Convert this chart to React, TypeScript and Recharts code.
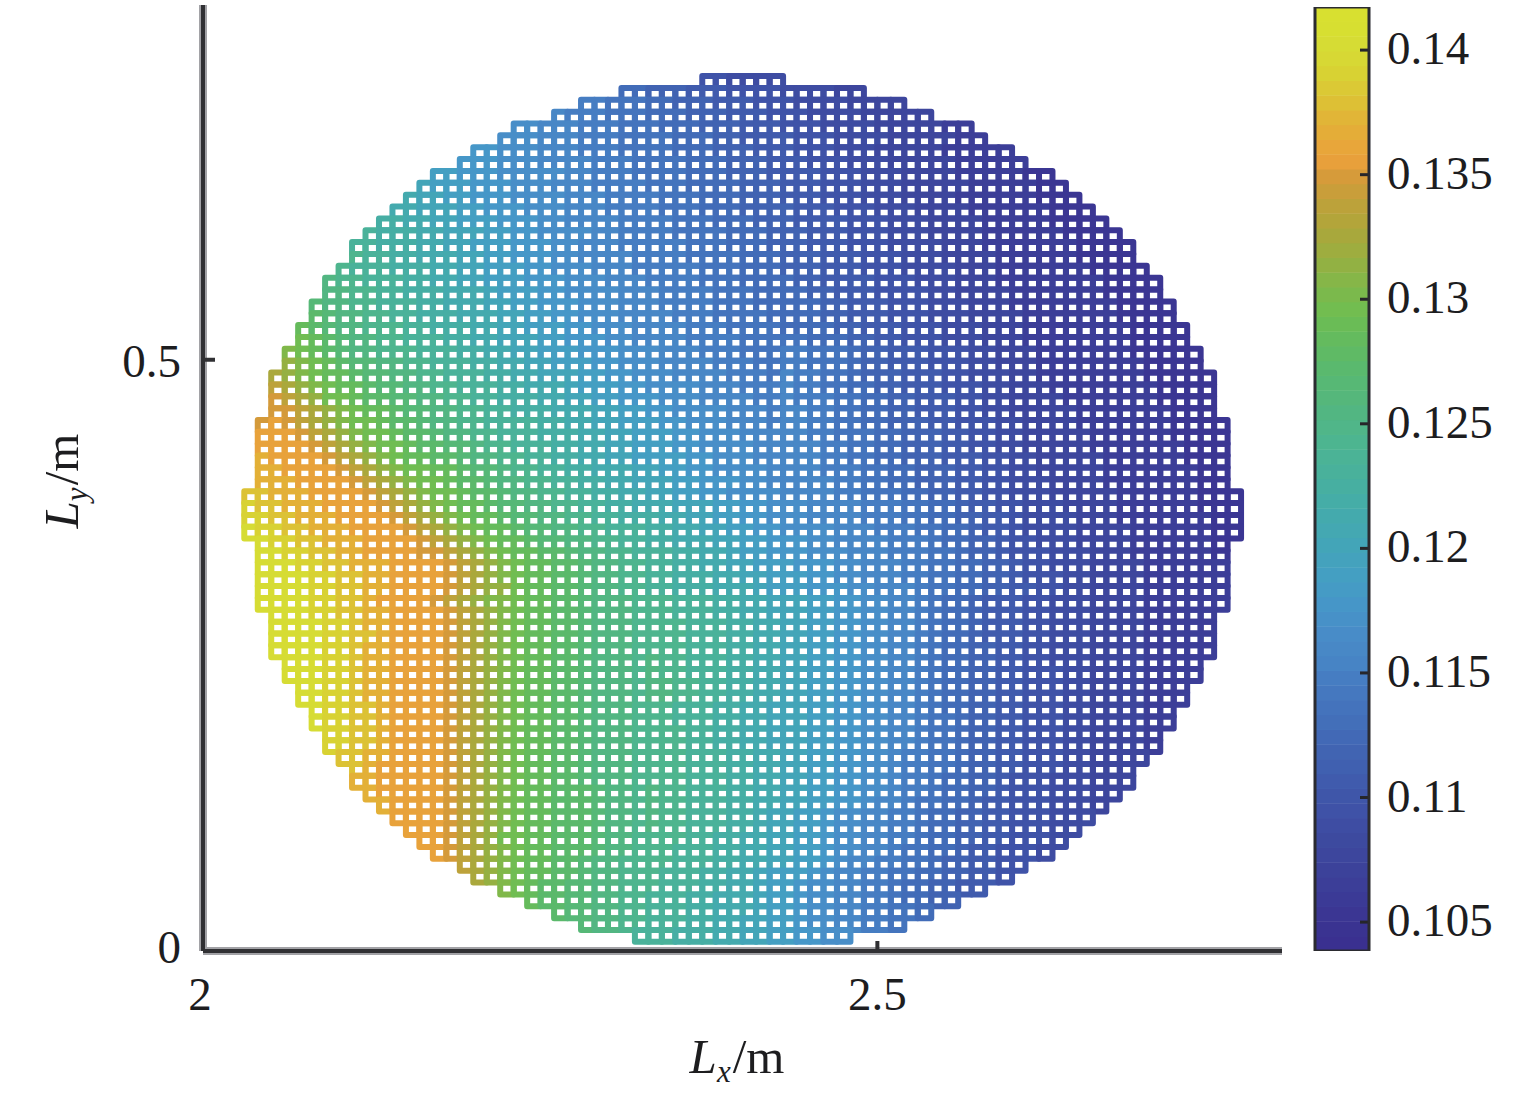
import React from 'react';
import {
  ScatterChart,
  Scatter,
  XAxis,
  YAxis,
  ReferenceLine,
  Label,
} from 'recharts';

const FONT = '"Liberation Serif", serif';
const INK = '#1d1d1f';

// colour levels used by the mesh, low to high
const LEVEL_COLORS = [
  '#3a3190', '#3b3693', '#3c3e98', '#3d469d', '#3e4ca2', '#3f53a8',
  '#405bad', '#4163b2', '#426cb8', '#4474bd', '#467dc2', '#4887c6',
  '#488ec8', '#4697c8', '#449fc2', '#43a5b8', '#44aaae', '#46aea4',
  '#4ab29a', '#4eb58e', '#52b682', '#56b877', '#5bb96b', '#65bb5c',
  '#70bd52', '#80b84a', '#95b042', '#aaa83c', '#bda23a', '#d49a3a',
  '#e8a23b', '#e3b037', '#dcc235', '#d8d233', '#d6dc34', '#d8e030',
];
const LEVEL_CHARS = '0123456789abcdefghijklmnopqrstuvwxyz';

// the 64 steps of the colour bar, bottom to top
const BAR_COLORS = [
  '#3a3090', '#3a3391', '#3b3693', '#3b3a96', '#3c3e98', '#3c429a', '#3d469d', '#3d4a9f',
  '#3e4da3', '#3f52a7', '#3f56a9', '#405bad', '#4060b0', '#4164b2', '#4269b6', '#436fb9',
  '#4473bc', '#4578bf', '#467dc2', '#4784c5', '#4888c6', '#488cc8', '#4791c8', '#4696c8',
  '#459bc5', '#449fc2', '#44a2bd', '#43a5b8', '#44a8b2', '#44aaad', '#45ada7', '#47afa1',
  '#49b19b', '#4bb396', '#4db590', '#50b689', '#52b682', '#55b77b', '#57b875', '#5ab96e',
  '#5fba65', '#64bb5e', '#6abc56', '#72bd50', '#7bb94c', '#86b648', '#92b143', '#9ead3f',
  '#a8a83c', '#b3a53a', '#bca23a', '#c99e3a', '#d69b3a', '#e8a03b', '#e8a63a', '#e4ad38',
  '#e1b537', '#ddc035', '#dbc935', '#d8d233', '#d7d834', '#d6dc34', '#d7df31', '#d8e030',
];

const X_TICKS = [2, 2.5];
const Y_TICKS = [0, 0.5];
const BAR_TICKS = [0.105, 0.11, 0.115, 0.12, 0.125, 0.13, 0.135, 0.14];
const BAR_DOMAIN = [0.10384, 0.14173];

// one string per mesh row, top to bottom, one char per cell (index into LEVEL_COLORS)
const ROW_LEVELS = [
  '.......... .......... .......... ....554444 .......... .......... .......... ....',
  '.......... .......... ........88 7776665555 444433.... .......... .......... ....',
  '.......... .......... .....aa999 8877766655 544443333. .......... .......... ....',
  '.......... .......... ...baaa999 8887776665 5544443333 3......... .......... ....',
  '.......... .......... ccbbbaaa99 9888777666 5554444333 3322...... .......... ....',
  '.......... .........c ccbbbaaa99 9988877666 6555444433 33322..... .......... ....',
  '.......... .......ddc ccbbbaaa99 9988877766 6555444333 3322222... .......... ....',
  '.......... ......dddc ccbbbbaaa9 9998887776 6655544433 33322222.. .......... ....',
  '.......... ....eedddc ccccbbaaa9 9998887776 6665554443 3332222211 .......... ....',
  '.......... ...feeeddd cccbbbaaaa 9998888777 6665554443 3333222221 1......... ....',
  '.......... ..gffeeddd ccccbbbaaa a999888777 6665554443 3332222221 11........ ....',
  '.......... .ggfffeedd dcccbbbaaa a999888777 7666555444 3333222222 111....... ....',
  '.......... hhggffeeed ddccbbbbaa aa99988877 7666655544 4333322222 1111...... ....',
  '.........i hhhggfffee ddccccbbaa aa99998887 7766655544 4333322222 21111..... ....',
  '........ii hhhggffeee dddccbbbaa aaa9998887 7766655544 4433322222 221111.... ....',
  '........ji ihhgggffee dddccbbbba aaa9999888 7776665554 4433332222 221111.... ....',
  '.......jii ihhhggffee eddcccbbba aaaa999888 7776665554 4443332222 2221111... ....',
  '......kjji iihhggffee edddcccbbb aaaa999888 8776666555 4443332222 22221111.. ....',
  '......kkjj iihhhgggfe eeddccccbb baaaa99988 8877666555 5443333222 22221111.. ....',
  '.....lkkjj iiihhgggff eedddcccbb baaaa99988 8887766655 5444333222 222221111. ....',
  '.....mlkkj jiihhhgggf feeddcccbb bbaaa99998 8887766655 5444333322 222221111. ....',
  '....nmlkkj jjiihhhggf feeeddcccb bbbaaa9999 8888776665 5544433322 2222221111 ....',
  '....onmlkk jjiiihhggf ffeedddccb bbbaaaa999 9988877665 5544433322 2222221111 ....',
  '...ponmlkk jjjiiihhgg ffeeedddcc cbbbaaa999 aa99987766 6555443332 2222221111 1...',
  '...qponmll kkjjiiihhg gffeeeddcc cbbbbaaa99 aa99987766 6555443332 2222222111 1...',
  '..rqponnml lkkjjiiihh ggfffeeddc ccbbbbaaa9 baa9987776 6655444332 2222222111 11..',
  '..srqponnm llkkjjiiih hgggfeeedd ccccbbbaaa baa9988776 6655544333 2222222211 11..',
  '..tsrqoonm mllkkjjiih hhggffeedd dcccbbbbaa baaa998877 6665544333 3222222211 11..',
  '..ttsrqpon nmllkkjjii hhhgggffee ddccccbbba bbaa998877 6665544333 3322222221 11..',
  '.tutsrqpoo nmmlkkjjii iihhggffee eddcccbbba bbaa998877 7665554433 3322222221 111.',
  '.uuutsrqpo onmmlkkjji iihhhggffe eeddcccbbb bbaa999887 7766554433 3332222221 111.',
  '.uuuutsrqp oonmmllkjj iiihhggffe eeddccccbb bbbaa99887 7766554433 3332222222 111.',
  '.vuuuutsrq ponnmmlkkj jiihhggffe eeeddcccbb bbbaa99887 7766655443 3333222222 111.',
  '.vvuuuutsr qpoonnmllk jjiihhgggf feeddccccb bbbaaa9988 7776655443 3333222222 211.',
  '.vvvuuuuts rqpoonmmlk kjjiihhggf ffeedddccb bbbbaa9988 7776655444 3333222222 211.',
  'wwvvvuuuut srqpoonmml kkjjiihhgg ffeeddcccc bbbbaa9998 8776655444 3333322222 2111',
  'xwwvvvuuuu tsrqponnml lkkjjiihhg ggfffeeddc ccbbbbaaa9 9887665544 4333322222 2111',
  'xxwwvvvuuu utsrqponnm llkkjjiihh hggffeeddc ccbbbbaaa9 9887766544 4433322222 2211',
  'yxxwwvvvuu uutsrqponn mllkkjjiii hhggffeedd ccccbbbaaa 9988766544 4433332222 2211',
  '.yxxwwvvvu uuutsrqpon nmllkkjjii hhgggffeed ddccbbbbaa a988776554 4433332222 221.',
  '.yyxxwwvvu uuuttsrqpo nnmmlkkjji iihhggfeed ddcccbbbaa a998776555 4443332222 221.',
  '.yyyxxwwvv vuuuutsrqp onnmmlkkjj iihhggffee edddccbbba a998877655 4443333222 222.',
  '.yyyyxxwwv vuuuutsrqp onnmmlkkjj iihhhggffe eeddccbbba a998877655 5443333222 222.',
  '.yyyyxxwwv vuuuutsrqq onnmmlkkjj iihhhgggfe eedddccbbb a998877665 5443333222 222.',
  '.yyyyxxwwv uuuutsrqpp onnmmlkkkj jjiiihhggf ffeeddccbb a988766655 4443333222 222.',
  '..yyyxxwwv vuuuutsrqp onnmmlkkkj jjiiihhggf ffeeddccbb a988766655 4443333222 22..',
  '..yyyyxxwv vuuuutsrqp onnmmlkkkj jjjiiihhgg ffeeddccbb a988766655 4443333222 22..',
  '..yyyyxxww vuuuutsrqp onnmmlkkkj jjjiiihhgg ffeeddccbb a988766655 4443333222 22..',
  '..yyyyxxwv vuuuutsrqp onnmmlkkkj jjjiiihhgg ffeeddccbb a988776655 4443333222 22..',
  '...yyyxxwv vuuuutsrqp onnmmlkkkj kjjiiihhgg ffeeddccbb a988776655 4443333222 2...',
  '...yyyxxwv vuuuutsrqp onnmmlkkkj kjjiiihhgg ffeeddccbb a988776655 5443333222 2...',
  '....yyxxwv vuuuutsrqp onnmmlkkkj kkjjiihhgg ffeeddccbb a988776655 5443333222 ....',
  '....yyxxwv vuuuutsrqp onnmmlkkkj kkjjiihhgg ffeeddccbb a988776655 5443333222 ....',
  '.....yxxww vuuuutsrqp onnmmlkkkj jjiiihhggf ffeeddccbb a988776655 544333322. ....',
  '.....yxxww vuuuutsrqp onnmmlkkkj jjiiihhggf ffeeddccbb a998776655 544333322. ....',
  '......xxww vuuuutsrqp onnmmlkkkj jjjiihhggf ffeeddccbb a998776655 54433332.. ....',
  '......xxww vuuuutsrqp onnmmlkkkj jjjiihhggf ffeeddccbb a998776655 54433332.. ....',
  '.......wwv vuuuutsrqp onnmmlkkkj jjjiiihhgg ffeeddccba a998776655 5443333... ....',
  '........wv uuuuutsrqp onnmmlkkkj jjjiiihhgg ffeeddccba a998776655 544333.... ....',
  '........vv uuuuutsrqp onnmmlkkkj jjjiiihhgg ffeeddccba a988776555 444333.... ....',
  '.........v uuuuutsrqp onnmmmlkkj kjjiiihhgg ffeeddccba a988776555 44433..... ....',
  '.......... vuuuutsrqp onnmmmlkkj kjjiiihhgg ffeeddcbba 9988766555 4443...... ....',
  '.......... .uuuutsrqp onnmmmlkkj kjjiiihhgf feedccbbaa 9887766555 444....... ....',
  '.......... ..uuutsrqp onnmmmlkkj kjjiiihhgf feedccbbaa 9887766555 44........ ....',
  '.......... ...uutsrqo onnmmmlkkj jjjiihhggf feedccbbaa 9887766555 4......... ....',
  '.......... ....utsrqp onnmmmlkkj jjiiihhggf feedccbba9 9887665554 .......... ....',
  '.......... ......srqp onnmmlkkjj jjiiihhggf feedcbbaa9 98776655.. .......... ....',
  '.......... .......rqp onnmmlkkjj jiiihhggfe eedcbbaa99 8877665... .......... ....',
  '.......... .........p onmmllkkjj jiiihhggfe edccbbaa98 87766..... .......... ....',
  '.......... .......... .nmmllkkjj iiihhgggfe edccbbaa98 877....... .......... ....',
  '.......... .......... ...mllkkjj iiihhgggfe edccbbaa99 8......... .......... ....',
  '.......... .......... .....lkkjj iiihhggffe edccbbaa9. .......... .......... ....',
  '.......... .......... .........i iihhhggffe eddcc..... .......... .......... ....',
];

const X_FIRST = 2.0356;
const X_STEP = 0.009987;
const Y_FIRST = 0.7349;
const Y_STEP = 0.01003;
const CELL_W = 13.47;
const CELL_H = 11.86;
const WIRE = 6;

const levelValue = (k: number, count: number) =>
  BAR_DOMAIN[0] + ((k + 0.5) * (BAR_DOMAIN[1] - BAR_DOMAIN[0])) / count;

const cells: { x: number; y: number; value: number; color: string }[] = [];
ROW_LEVELS.forEach((row, r) => {
  row.replace(/ /g, '').split('').forEach((ch, c) => {
    if (ch === '.') return;
    const k = LEVEL_CHARS.indexOf(ch);
    cells.push({
      x: X_FIRST + c * X_STEP,
      y: Y_FIRST - r * Y_STEP,
      value: levelValue(k, LEVEL_COLORS.length),
      color: LEVEL_COLORS[k],
    });
  });
});

const bands = BAR_COLORS.map((color, k) => ({ x: 0.5, y: levelValue(k, BAR_COLORS.length), color }));
const barCentre = [{ x: 0.5, y: (BAR_DOMAIN[0] + BAR_DOMAIN[1]) / 2 }];

const MeshCell = (props: any) => (
  <rect
    x={props.cx - CELL_W / 2}
    y={props.cy - CELL_H / 2}
    width={CELL_W}
    height={CELL_H}
    fill="none"
    stroke={props.payload.color}
    strokeWidth={WIRE}
    strokeLinejoin="round"
  />
);

const BarBand = (props: any) => (
  <rect
    x={props.cx - 27}
    y={props.cy - 7.6}
    width={54}
    height={15.2}
    fill={props.payload.color}
  />
);

const BarFrame = (props: any) => (
  <rect
    x={props.cx - 27}
    y={props.cy - 472}
    width={54}
    height={944}
    fill="none"
    stroke="#2b2b30"
    strokeWidth={3}
  />
);

const textStyle = { fontFamily: FONT, fontSize: 47, fill: INK };

const XTick = (props: any) => (
  <text {...textStyle} x={props.x + (props.payload.value === 2 ? -3 : 0)} y={1010} textAnchor="middle">
    {props.payload.value}
  </text>
);

const YTick = (props: any) => (
  <text {...textStyle} x={181} y={props.y + (props.payload.value === 0 ? 12 : 17)} textAnchor="end">
    {props.payload.value}
  </text>
);

const BarTick = (props: any) => (
  <text {...textStyle} x={87} y={props.y + 14} textAnchor="start">
    {props.payload.value}
  </text>
);

const XTitle = () => (
  <text {...textStyle} fontSize={49} x={737} y={1073} textAnchor="middle">
    <tspan fontStyle="italic">L</tspan>
    <tspan fontStyle="italic" fontSize={31} dy={9}>x</tspan>
    <tspan dy={-9} dx={2}>/m</tspan>
  </text>
);

const YTitle = () => (
  <text {...textStyle} fontSize={49} x={78} y={481} textAnchor="middle" transform="rotate(-90 78 481)">
    <tspan fontStyle="italic">L</tspan>
    <tspan fontStyle="italic" fontSize={31} dy={9}>y</tspan>
    <tspan dy={-9} dx={2}>/m</tspan>
  </text>
);

const BAR_MARGIN = { top: 7, right: 46, bottom: 151, left: 15 };

export default function App() {
  return (
    <div style={{ position: 'absolute', left: 0, top: 0, width: 1535, height: 1102, background: '#fff' }}>
      <div style={{ position: 'absolute', left: 0, top: 0 }}>
        <ScatterChart
          width={1300}
          height={1102}
          margin={{ top: 5, right: 18, bottom: 91, left: 123 }}
        >
          <ReferenceLine x={2} stroke="#a2a2a6" strokeWidth={8} />
          <ReferenceLine y={0} stroke="#a2a2a6" strokeWidth={8} />
          <XAxis
            type="number"
            dataKey="x"
            domain={[2, 2.8]}
            ticks={X_TICKS}
            interval={0}
            height={60}
            axisLine={{ stroke: '#303033', strokeWidth: 4 }}
            tickLine={{ stroke: '#303033', strokeWidth: 4 }}
            tickSize={-10}
            tick={XTick}
          >
            <Label content={XTitle} />
          </XAxis>
          <YAxis
            type="number"
            dataKey="y"
            domain={[0, 0.8]}
            ticks={Y_TICKS}
            interval={0}
            width={80}
            axisLine={{ stroke: '#303033', strokeWidth: 4 }}
            tickLine={{ stroke: '#303033', strokeWidth: 4 }}
            tickSize={-12}
            tick={YTick}
          >
            <Label content={YTitle} />
          </YAxis>
          <Scatter data={cells} shape={MeshCell} isAnimationActive={false} />
        </ScatterChart>
      </div>
      {/* colour bar: the bands first, then a second chart on top for frame and ticks */}
      <div style={{ position: 'absolute', left: 1300, top: 0 }}>
        <ScatterChart width={235} height={1102} margin={BAR_MARGIN}>
          <XAxis type="number" dataKey="x" domain={[0, 1]} hide />
          <YAxis
            type="number"
            dataKey="y"
            orientation="right"
            domain={BAR_DOMAIN}
            allowDataOverflow
            width={120}
            axisLine={false}
            tickLine={false}
            tick={false}
          />
          <Scatter data={bands} shape={BarBand} isAnimationActive={false} />
        </ScatterChart>
      </div>
      <div style={{ position: 'absolute', left: 1300, top: 0 }}>
        <ScatterChart width={235} height={1102} margin={BAR_MARGIN}>
          <XAxis type="number" dataKey="x" domain={[0, 1]} hide />
          <YAxis
            type="number"
            dataKey="y"
            orientation="right"
            domain={BAR_DOMAIN}
            allowDataOverflow
            ticks={BAR_TICKS}
            interval={0}
            width={120}
            axisLine={false}
            tickLine={{ stroke: '#26262a', strokeWidth: 3 }}
            tickSize={-9}
            tick={BarTick}
          />
          <Scatter data={barCentre} shape={BarFrame} isAnimationActive={false} />
        </ScatterChart>
      </div>
    </div>
  );
}
